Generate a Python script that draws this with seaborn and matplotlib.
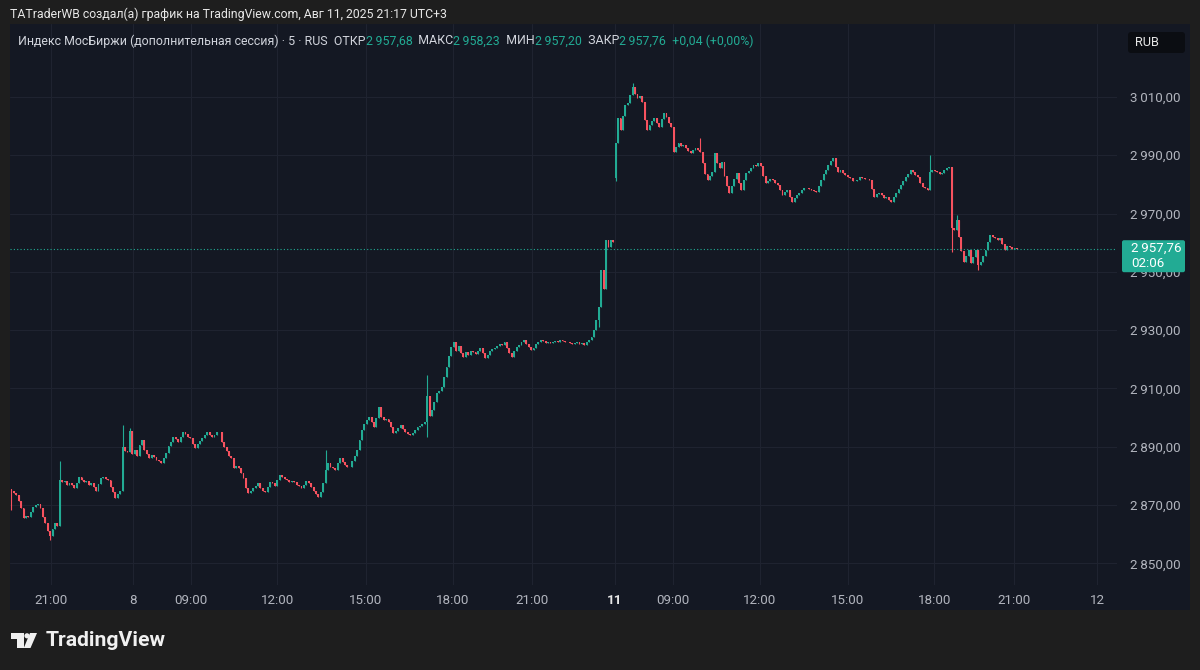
import matplotlib
matplotlib.use('Agg')
import matplotlib.pyplot as plt
from matplotlib.patches import Rectangle, Polygon, Circle, FancyBboxPatch
import numpy as np
import seaborn as sns

# 5-минутные свечи, цены закрытия (Индекс МосБиржи, доп. сессия)
aug7_close = [2875.0, 2874.2, 2873.3, 2871.5, 2869.0, 2865.5, 2866.2, 2865.8, 2867.5, 2869.2,
              2870.0, 2870.3, 2869.0, 2866.0, 2863.7, 2861.2, 2859.3, 2861.8, 2863.7, 2863.0,
              2878.5, 2877.8, 2878.2, 2877.0, 2877.5, 2876.8, 2876.0, 2877.6, 2879.5, 2878.6,
              2877.8, 2878.3, 2876.9, 2877.5, 2876.2, 2875.0, 2877.3, 2879.2, 2879.8, 2878.9,
              2878.5, 2876.3, 2874.4, 2872.3, 2873.8, 2875.0, 2889.8, 2888.6, 2888.1, 2895.5]

aug8_close = [2887.5, 2889.0, 2887.0, 2890.5, 2892.2, 2889.0, 2887.5, 2886.0, 2887.2, 2886.4,
              2885.5, 2885.0, 2884.3, 2886.2, 2888.0, 2890.1, 2891.8, 2893.3, 2892.6, 2891.5,
              2893.2, 2895.0, 2894.4, 2893.4, 2892.9, 2891.0, 2889.5, 2890.8, 2892.0, 2892.9,
              2894.1, 2895.0, 2894.0, 2893.3, 2894.0, 2895.2, 2895.0, 2891.5, 2889.8, 2888.5,
              2887.0, 2886.0, 2882.6, 2883.4, 2882.6, 2881.0, 2879.2, 2876.0, 2874.0, 2874.8,
              2875.8, 2876.5, 2877.5, 2876.0, 2875.0, 2874.4, 2876.2, 2878.0, 2877.5, 2876.4,
              2878.6, 2880.2, 2879.6, 2879.0, 2878.5, 2878.0, 2878.3, 2877.8, 2876.9, 2876.5,
              2876.0, 2876.8, 2878.1, 2877.5, 2876.2, 2875.0, 2873.8, 2872.7, 2874.5, 2877.5,
              2882.0, 2884.3, 2883.0, 2882.6, 2882.2, 2884.6, 2886.0, 2884.8, 2883.6, 2883.2,
              2883.0, 2885.2, 2887.0, 2888.8, 2892.5, 2895.7,
              2897.8, 2899.1, 2900.1, 2898.5, 2896.7, 2899.8, 2903.6, 2900.1, 2899.1, 2899.6,
              2898.4, 2896.8, 2894.6, 2895.5, 2896.6, 2897.4, 2896.2, 2895.0, 2894.5, 2894.0,
              2894.8, 2895.9, 2896.7, 2897.2, 2897.9, 2898.4,
              2907.5, 2900.5, 2902.5, 2905.5, 2908.4, 2909.0, 2910.4, 2913.8, 2917.3, 2921.0,
              2924.2, 2925.9, 2923.0, 2924.5, 2922.1, 2920.8, 2922.6, 2921.4, 2923.0, 2922.4,
              2921.9, 2923.0, 2923.8, 2922.3, 2920.4, 2921.6, 2922.8, 2923.5,
              2923.8, 2924.6, 2925.3, 2924.8, 2925.9, 2924.0, 2922.2, 2920.7, 2922.8, 2924.2,
              2925.0, 2925.8, 2926.6, 2925.4, 2924.2, 2923.1, 2924.0, 2925.2, 2926.0, 2926.6,
              2926.2, 2925.6, 2926.0, 2925.5, 2925.9, 2926.3, 2926.0, 2926.6, 2926.3, 2925.8,
              2925.9, 2925.5, 2925.2, 2925.6, 2925.8, 2925.3, 2925.5, 2925.0, 2925.8, 2926.7,
              2927.6, 2930.0, 2933.4, 2937.9, 2950.6, 2944.2, 2960.9, 2958.5, 2960.9, 2960.2]

aug11_close = [2994.2, 3002.8, 2998.7, 3003.5, 3007.3, 3007.9, 3010.5, 3013.4, 3011.0, 3009.7,
               3010.2, 3008.3, 3002.1, 2998.7, 3000.5, 3001.8, 3002.8, 3001.0, 2999.7, 3002.4,
               3004.5, 3003.0, 3001.1, 2999.7, 2991.1, 2992.8, 2994.2, 2993.0, 2993.4, 2992.5,
               2991.6, 2990.8, 2991.8, 2992.5, 2991.9, 2991.1, 2987.3, 2983.5, 2981.5, 2983.0,
               2984.2, 2990.8, 2987.5, 2985.6, 2987.7, 2983.0, 2979.5, 2977.0, 2979.6, 2982.0,
               2983.9, 2980.5, 2978.1, 2981.5, 2983.9, 2984.6, 2985.6, 2986.8, 2986.2, 2987.3,
               2986.4, 2983.0, 2980.5, 2981.2, 2982.0, 2981.5, 2980.6, 2979.8, 2978.0, 2976.4,
               2977.5, 2978.1, 2975.8, 2973.9, 2975.2, 2976.3, 2977.0, 2978.0, 2978.8, 2978.6,
               2978.3, 2978.1, 2977.6, 2977.4, 2979.6, 2981.5, 2983.4, 2985.0, 2986.6, 2988.0,
               2989.1, 2986.0, 2984.2, 2984.8, 2983.9, 2983.2, 2982.6, 2982.2, 2981.2, 2981.0,
               2981.5, 2982.4, 2982.2, 2981.9, 2981.7, 2981.5, 2978.5, 2975.7, 2976.8, 2977.2,
               2976.4, 2975.2, 2975.7, 2974.6, 2973.9, 2975.5, 2977.0, 2978.5, 2979.8, 2981.3,
               2982.5, 2983.4, 2984.8, 2984.2, 2983.3, 2982.5, 2980.6, 2979.1, 2978.6, 2978.1,
               2984.2, 2985.0, 2984.5, 2984.2, 2983.5, 2983.9, 2984.8, 2985.5, 2986.0, 2965.0,
               2964.3, 2967.8, 2961.9, 2957.0, 2953.3, 2955.6, 2957.5, 2953.0, 2955.2, 2957.5,
               2952.3, 2953.3, 2955.5, 2957.5, 2960.4, 2962.6, 2962.0, 2961.6, 2961.0, 2961.6,
               2959.5, 2957.5, 2958.8, 2958.5, 2958.0, 2958.2, 2957.76]

first_open = 2875.6
aug11_open = 2982.2

# заметные тени (индекс свечи, максимум, минимум)
spike_idx = [0, 16, 20, 46, 49, 130, 172, 243, 250, 257, 285, 380, 389, 391, 400]
spike_high = [np.nan, np.nan, 2885.0, 2897.4, 2896.5, 2888.8, 2914.5, np.nan, np.nan, 3014.8,
              2995.9, 2990.0, np.nan, 2969.5, np.nan]
spike_low = [2868.2, 2858.0, np.nan, np.nan, np.nan, np.nan, 2893.3, 2931.0, 2981.0, np.nan,
             np.nan, np.nan, 2956.8, np.nan, 2950.5]

price_ticks = [2850, 2870, 2890, 2910, 2930, 2950, 2970, 2990, 3010]
time_tick_idx = [16.5, 50.4, 74.4, 110, 146.7, 182.6, 215.3, 249.6, 273.6, 309.5, 345.9, 381.8, 414.9, 449.2]
time_tick_lbl = ['21:00', '8', '09:00', '12:00', '15:00', '18:00', '21:00',
                 '11', '09:00', '12:00', '15:00', '18:00', '21:00', '12']

UP, DOWN = '#22ab94', '#f7525f'
PANE, OUTER, GRID = '#141823', '#1e1e1e', '#1f2330'
TXT, AXT = '#d1d4dc', '#b2b5be'

sns.set_theme(style='dark', rc={'axes.facecolor': PANE, 'figure.facecolor': OUTER,
                                'grid.color': GRID, 'grid.linewidth': 0.8,
                                'xtick.color': AXT, 'ytick.color': AXT})
plt.rcParams['font.family'] = ['Roboto', 'DejaVu Sans']

close = np.array(aug7_close + aug8_close + aug11_close)
idx = np.arange(len(close))
opn = np.r_[first_open, close[:-1]]
opn[len(aug7_close) + len(aug8_close)] = aug11_open
high = np.maximum(opn, close)
low = np.minimum(opn, close)
for k, h, l in zip(spike_idx, spike_high, spike_low):
    if not np.isnan(h):
        high[k] = h
    if not np.isnan(l):
        low[k] = l
up = close >= opn
colors = np.where(up, UP, DOWN)

fig = plt.figure(figsize=(12, 6.7), dpi=100)
W, H = 1200, 670
# панель графика
fig.add_artist(Rectangle((10 / W, 1 - 610 / H), 1180 / W, 586 / H, transform=fig.transFigure,
                         facecolor=PANE, edgecolor='none', zorder=-1))

ax = fig.add_axes([10 / W, 1 - 585 / H, 1107 / W, 561 / H])
ax.vlines(idx, low, high, colors=colors, lw=0.8)
body = np.maximum(np.abs(close - opn), 0.2)
ax.bar(idx, body, bottom=np.minimum(opn, close), width=0.78, color=colors, linewidth=0)
last = close[-1]
ax.axhline(last, color=UP, ls=(0, (1, 2)), lw=0.8)

ax.set_xlim(-0.6, 457.4)
ax.set_ylim(2842.6, 3035.0)
for s in ax.spines.values():
    s.set_visible(False)
ax.yaxis.tick_right()
ax.set_yticks(price_ticks)
ax.set_yticklabels([f'{v // 1000}\u2009{v % 1000:03d},00' for v in price_ticks])
ax.set_xticks(time_tick_idx)
ax.set_xticklabels(time_tick_lbl)
ax.tick_params(axis='y', length=0, pad=9.5, labelsize=9.6)
ax.tick_params(axis='x', length=0, pad=6.5, labelsize=9.6)
ax.grid(True, color=GRID, lw=0.8)
lab11 = ax.get_xticklabels()[7]
lab11.set_fontweight('bold')
lab11.set_color('#e6e6e6')

# верхний слой в пикселях
ov = fig.add_axes([0, 0, 1, 1], zorder=5)
ov.set_xlim(0, W)
ov.set_ylim(H, 0)
ov.axis('off')
ov.patch.set_alpha(0)

ov.text(10, 14, 'TATraderWB создал(а) график на TradingView.com, Авг 11, 2025 21:17 UTC+3',
        color='#e8e8e8', fontsize=8.8, va='center', ha='left')

segs = [('Индекс МосБиржи (дополнительная сессия) · 5 · RUS  ОТКР', TXT),
        ('2\u2009957,68', UP), ('  МАКС', TXT), ('2\u2009958,23', UP), ('  МИН', TXT),
        ('2\u2009957,20', UP), ('  ЗАКР', TXT), ('2\u2009957,76', UP), ('  +0,04 (+0,00%)', UP)]
fig.canvas.draw()
rend = fig.canvas.get_renderer()
x = 18
for s, c in segs:
    t = ov.text(x, 41, s, color=c, fontsize=8.9, va='center', ha='left')
    x += t.get_window_extent(rend).width

# RUB
ov.add_patch(FancyBboxPatch((1128, 32), 57, 21, boxstyle='round,pad=0,rounding_size=3',
                            facecolor='#0b0d12', edgecolor='none'))
ov.text(1135, 43, 'RUB', color='#e6e6e6', fontsize=9.2, va='center', ha='left')

# метка текущей цены
y_px = H - ax.transData.transform((0, last))[1]
ov.add_patch(FancyBboxPatch((1122, y_px - 9), 63, 32, boxstyle='round,pad=0,rounding_size=2',
                            facecolor=UP, edgecolor='none'))
ov.text(1131, y_px - 1, f'2\u2009{last - 2000:.2f}'.replace('.', ','),
        color='white', fontsize=9.6, va='center', ha='left')
ov.text(1131, y_px + 14, '02:06', color='white', fontsize=9.6, va='center', ha='left')

# логотип
ov.add_patch(Rectangle((11, 633), 12.5, 5.5, facecolor='#f0f0f0', edgecolor='none'))
ov.add_patch(Rectangle((17, 633), 6.5, 15, facecolor='#f0f0f0', edgecolor='none'))
ov.add_patch(Circle((27, 635.8), 2.6, facecolor='#f0f0f0', edgecolor='none'))
ov.add_patch(Polygon([(30, 633), (37, 633), (30.5, 648), (23.8, 648)], closed=True,
                     facecolor='#f0f0f0', edgecolor='none'))
ov.text(46, 640, 'TradingView', color='#f0f0f0', fontsize=15.2, fontweight='bold',
        va='center', ha='left')

fig.savefig('out.png', dpi=100, facecolor=OUTER)
